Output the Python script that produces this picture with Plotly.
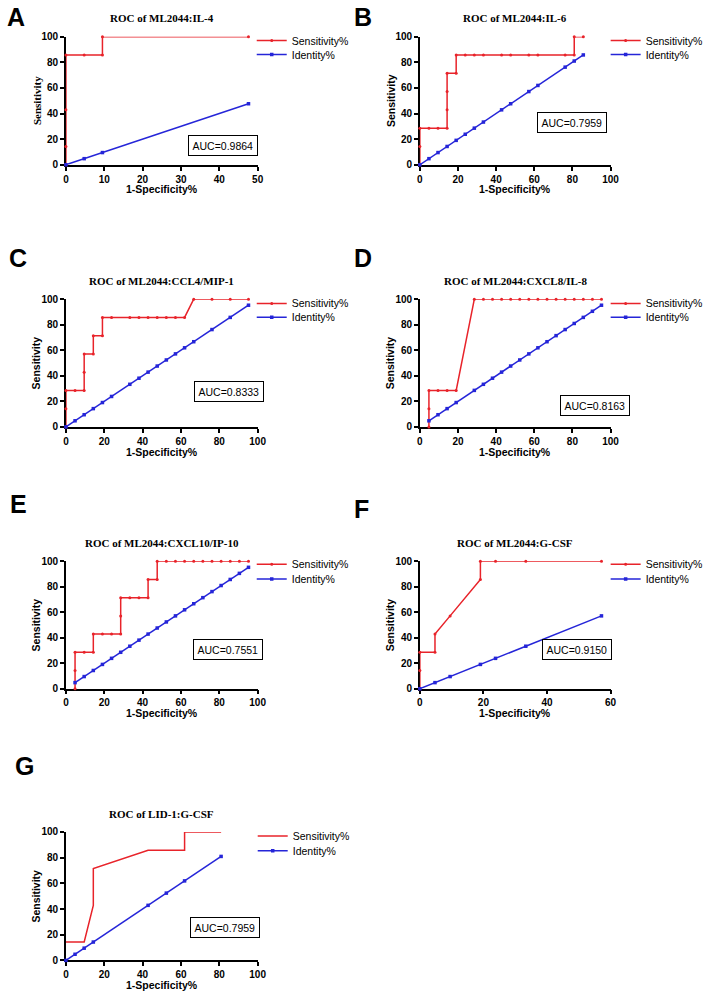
import plotly.graph_objects as go

# ---------------- data ----------------
titles = ["ROC of ML2044:IL-4", "ROC of ML2044:IL-6", "ROC of ML2044:CCL4/MIP-1",
          "ROC of ML2044:CXCL8/IL-8", "ROC of ML2044:CXCL10/IP-10", "ROC of ML2044:G-CSF",
          "ROC of LID-1:G-CSF"]
letters = ["A", "B", "C", "D", "E", "F", "G"]
auc_labels = ["AUC=0.9864", "AUC=0.7959", "AUC=0.8333", "AUC=0.8163",
              "AUC=0.7551", "AUC=0.9150", "AUC=0.7959"]
x_max = [50, 100, 100, 100, 100, 60, 100]
x_dtick = [10, 20, 20, 20, 20, 20, 20]

a_fpr = [0, 0, 0, 0, 4.762, 9.524, 9.524, 47.62]
a_sens = [0, 14.29, 42.86, 85.71, 85.71, 85.71, 100, 100]
a_ident = [0, 4.762, 9.524, 47.62]

b_fpr = [0, 0, 0, 4.762, 9.524, 14.29, 14.29, 14.29, 14.29, 19.05, 19.05, 23.81, 28.57,
         33.33, 42.86, 47.62, 57.14, 61.90, 76.19, 80.95, 80.95, 85.71]
b_sens = [0, 14.29, 28.57, 28.57, 28.57, 28.57, 42.86, 57.14, 71.43, 71.43, 85.71, 85.71,
          85.71, 85.71, 85.71, 85.71, 85.71, 85.71, 85.71, 85.71, 100, 100]
b_ident = [0, 4.762, 9.524, 14.29, 19.05, 23.81, 28.57, 33.33, 42.86, 47.62, 57.14, 61.90,
           76.19, 80.95, 85.71]

c_fpr = [0, 0, 0, 4.762, 9.524, 9.524, 9.524, 14.29, 14.29, 19.05, 19.05, 23.81, 33.33,
         38.10, 42.86, 47.62, 52.38, 57.14, 61.90, 66.67, 76.19, 85.71, 95.24]
c_sens = [0, 14.29, 28.57, 28.57, 28.57, 42.86, 57.14, 57.14, 71.43, 71.43, 85.71, 85.71,
          85.71, 85.71, 85.71, 85.71, 85.71, 85.71, 85.71, 100, 100, 100, 100]
c_ident = [0, 4.762, 9.524, 14.29, 19.05, 23.81, 33.33, 38.10, 42.86, 47.62, 52.38, 57.14,
           61.90, 66.67, 76.19, 85.71, 95.24]

d_fpr = [4.762, 4.762, 4.762, 9.524, 14.29, 19.05, 28.57, 33.33, 38.10, 42.86, 47.62, 52.38,
         57.14, 61.90, 66.67, 71.43, 76.19, 80.95, 85.71, 90.48, 95.24]
d_sens = [0, 14.29, 28.57, 28.57, 28.57, 28.57, 100, 100, 100, 100, 100, 100,
          100, 100, 100, 100, 100, 100, 100, 100, 100]
d_ident = [4.762, 9.524, 14.29, 19.05, 28.57, 33.33, 38.10, 42.86, 47.62, 52.38, 57.14,
           61.90, 66.67, 71.43, 76.19, 80.95, 85.71, 90.48, 95.24]

e_fpr = [4.762, 4.762, 4.762, 9.524, 14.29, 14.29, 19.05, 23.81, 28.57, 28.57, 28.57, 33.33,
         38.10, 42.86, 42.86, 47.62, 47.62, 52.38, 57.14, 61.90, 66.67, 71.43, 76.19, 80.95,
         85.71, 90.48, 95.24]
e_sens = [0, 14.29, 28.57, 28.57, 28.57, 42.86, 42.86, 42.86, 42.86, 57.14, 71.43, 71.43,
          71.43, 71.43, 85.71, 85.71, 100, 100, 100, 100, 100, 100, 100, 100,
          100, 100, 100]
e_ident = [4.762, 9.524, 14.29, 19.05, 23.81, 28.57, 33.33, 38.10, 42.86, 47.62, 52.38,
           57.14, 61.90, 66.67, 71.43, 76.19, 80.95, 85.71, 90.48, 95.24]

f_fpr = [0, 0, 0, 4.762, 4.762, 9.524, 19.05, 19.05, 23.81, 33.33, 57.14]
f_sens = [0, 14.29, 28.57, 28.57, 42.86, 57.14, 85.71, 100, 100, 100, 100]
f_ident = [0, 4.762, 9.524, 19.05, 23.81, 33.33, 57.14]

g_fpr = [0, 4.762, 9.524, 14.29, 14.29, 42.86, 52.38, 61.90, 61.90, 80.95]
g_sens = [14.29, 14.29, 14.29, 42.86, 71.43, 85.71, 85.71, 85.71, 100, 100]
g_ident = [0, 4.762, 9.524, 14.29, 42.86, 52.38, 61.90, 80.95]

fprs = [a_fpr, b_fpr, c_fpr, d_fpr, e_fpr, f_fpr, g_fpr]
senss = [a_sens, b_sens, c_sens, d_sens, e_sens, f_sens, g_sens]
idents = [a_ident, b_ident, c_ident, d_ident, e_ident, f_ident, g_ident]
sens_markers = [True, True, True, True, True, True, False]

# ---------------- layout geometry (pixels) ----------------
W, H = 711, 999
RED = "#e8232a"
BLUE = "#2525d8"
SANS = "Liberation Sans"
SERIF = "Liberation Serif"

col_x = [(64, 259), (424, 618)]
row_y = [(31, 160.7), (296.7, 426), (562, 691), (836, 966)]
letter_pos = [(13, 11), (366, 11), (15, 255), (366, 255), (16, 504), (365, 509), (22, 769)]
legend_pos = [((293, 35), (293, 49)), ((653, 35), (653, 49)),
              ((293, 301), (293, 315)), ((653, 301), (653, 315)),
              ((293, 565), (293, 580)), ((653, 565), (653, 580)),
              ((294, 840), (294, 855))]
auc_pos = [(224, 141.5), (579, 117.5), (230, 390), (602.5, 404), (228.5, 651.5),
           (583.5, 651.5), (225.5, 933)]


def px(x):
    return x / W


def py(y):
    return 1 - y / H


fig = go.Figure()
annotations = []
layout = dict(width=W, height=H, margin=dict(l=0, r=0, t=0, b=0),
              paper_bgcolor="white", plot_bgcolor="white", showlegend=True)


def legend_name(k):
    return "legend" if k == 1 else f"legend{k}"


for i in range(7):
    r, c = divmod(i, 2)
    x0, x1 = col_x[c]
    ytop, ybot = row_y[r]
    n = i + 1
    xa = "x" if n == 1 else f"x{n}"
    ya = "y" if n == 1 else f"y{n}"
    xkey = "xaxis" if n == 1 else f"xaxis{n}"
    ykey = "yaxis" if n == 1 else f"yaxis{n}"

    l_sens = legend_name(2 * i + 1)
    l_id = legend_name(2 * i + 2)

    fig.add_trace(go.Scatter(
        x=fprs[i], y=senss[i], name="Sensitivity%", xaxis=xa, yaxis=ya,
        mode="lines+markers" if sens_markers[i] else "lines",
        line=dict(color=RED, width=1.5),
        marker=dict(color=RED, size=3, symbol="circle"),
        cliponaxis=False, legend=l_sens))
    fig.add_trace(go.Scatter(
        x=idents[i], y=idents[i], name="Identity%", xaxis=xa, yaxis=ya,
        mode="lines+markers",
        line=dict(color=BLUE, width=1.5),
        marker=dict(color=BLUE, size=3.5, symbol="square"),
        cliponaxis=False, legend=l_id))

    axis_common = dict(showgrid=False, zeroline=False, showline=True, linecolor="black",
                       linewidth=1.5, ticks="outside", ticklen=4, tickwidth=1.5,
                       tickcolor="black", layer="below traces",
                       tickfont=dict(family=SANS, size=10, color="black", weight="bold"))
    layout[xkey] = dict(domain=[px(x0), px(x1)], anchor=ya, range=[0, x_max[i]],
                        tick0=0, dtick=x_dtick[i], **axis_common)
    layout[ykey] = dict(domain=[py(ybot), py(ytop)], anchor=xa, range=[0, 100],
                        tick0=0, dtick=20, **axis_common)

    (tx1, ty1), (tx2, ty2) = legend_pos[i]
    for lk, (tx, ty) in ((l_sens, (tx1, ty1)), (l_id, (tx2, ty2))):
        layout[lk] = dict(x=px(tx - 40), y=py(ty), xanchor="left", yanchor="middle",
                          bgcolor="rgba(0,0,0,0)", borderwidth=0,
                          font=dict(family=SANS, size=10.5, color="black"))

    # title
    annotations.append(dict(text=f"<b>{titles[i]}</b>", x=px((x0 + x1) / 2), y=py(ytop - 18.5),
                            xref="paper", yref="paper", showarrow=False,
                            xanchor="center", yanchor="middle",
                            font=dict(family=SERIF, size=11, color="black")))
    # panel letter
    lx, ly = letter_pos[i]
    annotations.append(dict(text=f"<b>{letters[i]}</b>", x=px(lx), y=py(ly),
                            xref="paper", yref="paper", showarrow=False,
                            xanchor="center", yanchor="middle",
                            font=dict(family=SANS, size=25, color="black")))
    # x axis title
    annotations.append(dict(text="<b>1-Specificity%</b>", x=px((x0 + x1) / 2), y=py(ybot + 25),
                            xref="paper", yref="paper", showarrow=False,
                            xanchor="center", yanchor="middle",
                            font=dict(family=SANS, size=10.5, color="black")))
    # y axis title
    annotations.append(dict(text="<b>Sensitivity</b>", x=px(x0 - 30), y=py((ytop + ybot) / 2),
                            xref="paper", yref="paper", showarrow=False, textangle=-90,
                            xanchor="center", yanchor="middle",
                            font=dict(family=SERIF if i == 0 else SANS,
                                      size=11 if i == 0 else 10.5, color="black")))
    # AUC box
    ax, ay = auc_pos[i]
    annotations.append(dict(text=auc_labels[i], x=px(ax), y=py(ay),
                            xref="paper", yref="paper", showarrow=False,
                            xanchor="center", yanchor="middle",
                            bordercolor="black", borderwidth=1, borderpad=3.5,
                            bgcolor="white",
                            font=dict(family=SANS, size=10.5, color="black")))

layout["annotations"] = annotations
fig.update_layout(**layout)
fig.write_html("out.html", config={"displayModeBar": False},
               post_script="document.body.style.margin='0';document.body.style.overflow='hidden';")
